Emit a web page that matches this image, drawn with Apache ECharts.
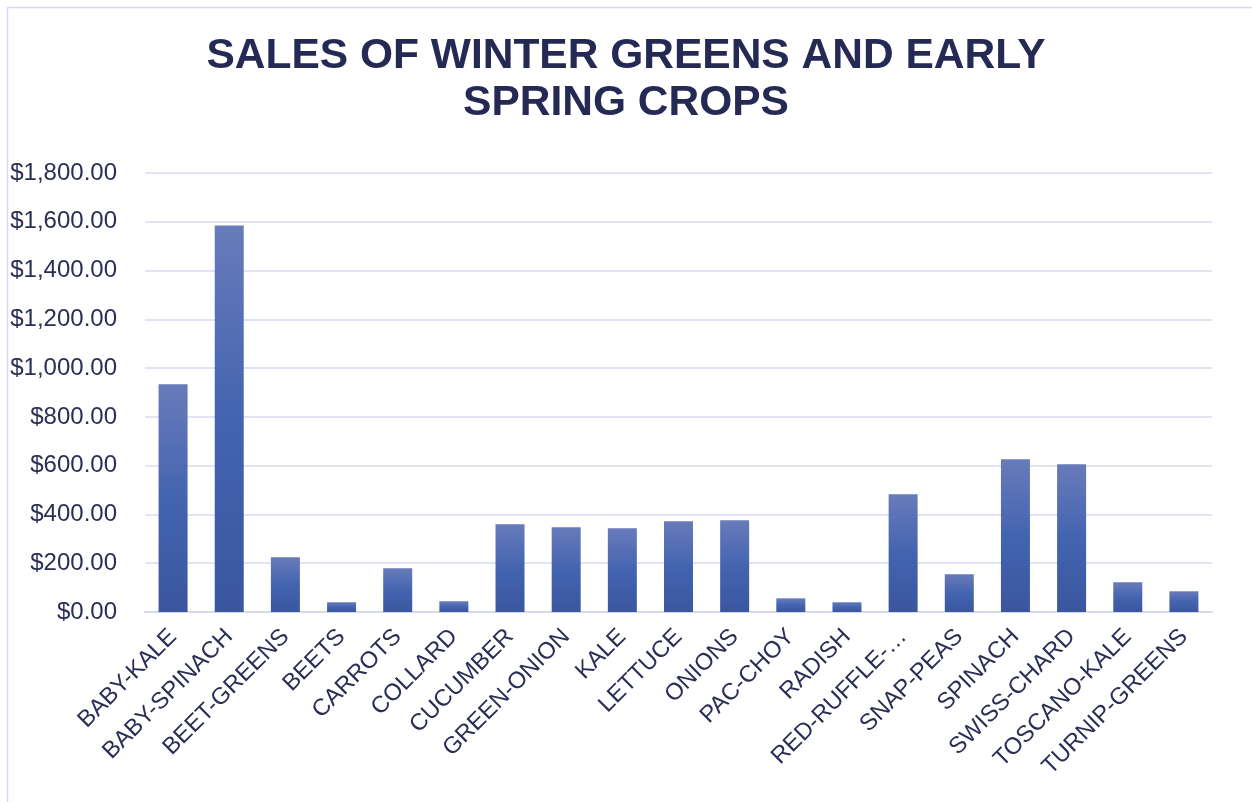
<!DOCTYPE html>
<html>
<head>
<meta charset="utf-8">
<script src="https://cdn.jsdelivr.net/npm/echarts@6/dist/echarts.min.js"></script>
<style>
html,body{margin:0;padding:0;background:#fff;}
#chart{width:1252px;height:802px;}
</style>
</head>
<body>
<div id="chart"></div>
<script>
const categories = ["BABY-KALE","BABY-SPINACH","BEET-GREENS","BEETS","CARROTS","COLLARD","CUCUMBER","GREEN-ONION","KALE","LETTUCE","ONIONS","PAC-CHOY","RADISH","RED-RUFFLE-…","SNAP-PEAS","SPINACH","SWISS-CHARD","TOSCANO-KALE","TURNIP-GREENS"];
const sales = [934, 1585, 224, 40, 179, 44, 360, 347, 343, 372, 376, 56, 40, 483, 155, 626, 606, 122, 85];
const yTicks = [0, 200, 400, 600, 800, 1000, 1200, 1400, 1600, 1800];

const chart = echarts.init(document.getElementById('chart'));
const fmt = v => '$' + v.toLocaleString('en-US', {minimumFractionDigits: 2, maximumFractionDigits: 2});
chart.setOption({
  animation: false,
  backgroundColor: '#ffffff',
  graphic: [{
    type: 'rect',
    shape: {x: 7.5, y: 7.5, width: 1400, height: 900},
    style: {fill: 'none', stroke: '#d6d8ee', lineWidth: 1.5},
    silent: true
  }],
  title: {
    text: 'SALES OF WINTER GREENS AND EARLY\nSPRING CROPS',
    left: 'center',
    top: 28,
    textStyle: {
      fontFamily: 'Liberation Sans, Arial, sans-serif',
      fontWeight: 'bold',
      fontSize: 42.5,
      lineHeight: 47,
      color: '#252a54'
    }
  },
  grid: {left: 145, right: 40, top: 173, bottom: 190, containLabel: false},
  xAxis: {
    type: 'category',
    data: categories,
    axisLine: {show: true, lineStyle: {color: '#d6d8ee', width: 2}},
    axisTick: {show: false},
    axisLabel: {
      rotate: 45,
      interval: 0,
      margin: 21,
      fontFamily: 'Liberation Sans, Arial, sans-serif',
      fontSize: 23.5,
      color: '#2b2e55'
    }
  },
  yAxis: {
    type: 'value',
    min: yTicks[0],
    max: yTicks[yTicks.length - 1],
    interval: 200,
    axisLine: {show: false},
    axisTick: {show: false},
    splitLine: {lineStyle: {color: '#d9daf0', width: 1.5}},
    axisLabel: {
      margin: 28,
      formatter: fmt,
      fontFamily: 'Liberation Sans, Arial, sans-serif',
      fontSize: 24,
      color: '#2b2e55'
    }
  },
  series: [{
    type: 'bar',
    data: sales,
    barWidth: 29,
    itemStyle: {
      color: new echarts.graphic.LinearGradient(0, 0, 0, 1, [
        {offset: 0, color: '#687bba'},
        {offset: 0.5, color: '#4464b0'},
        {offset: 1, color: '#3a569f'}
      ])
    }
  }]
});
</script>
</body>
</html>
